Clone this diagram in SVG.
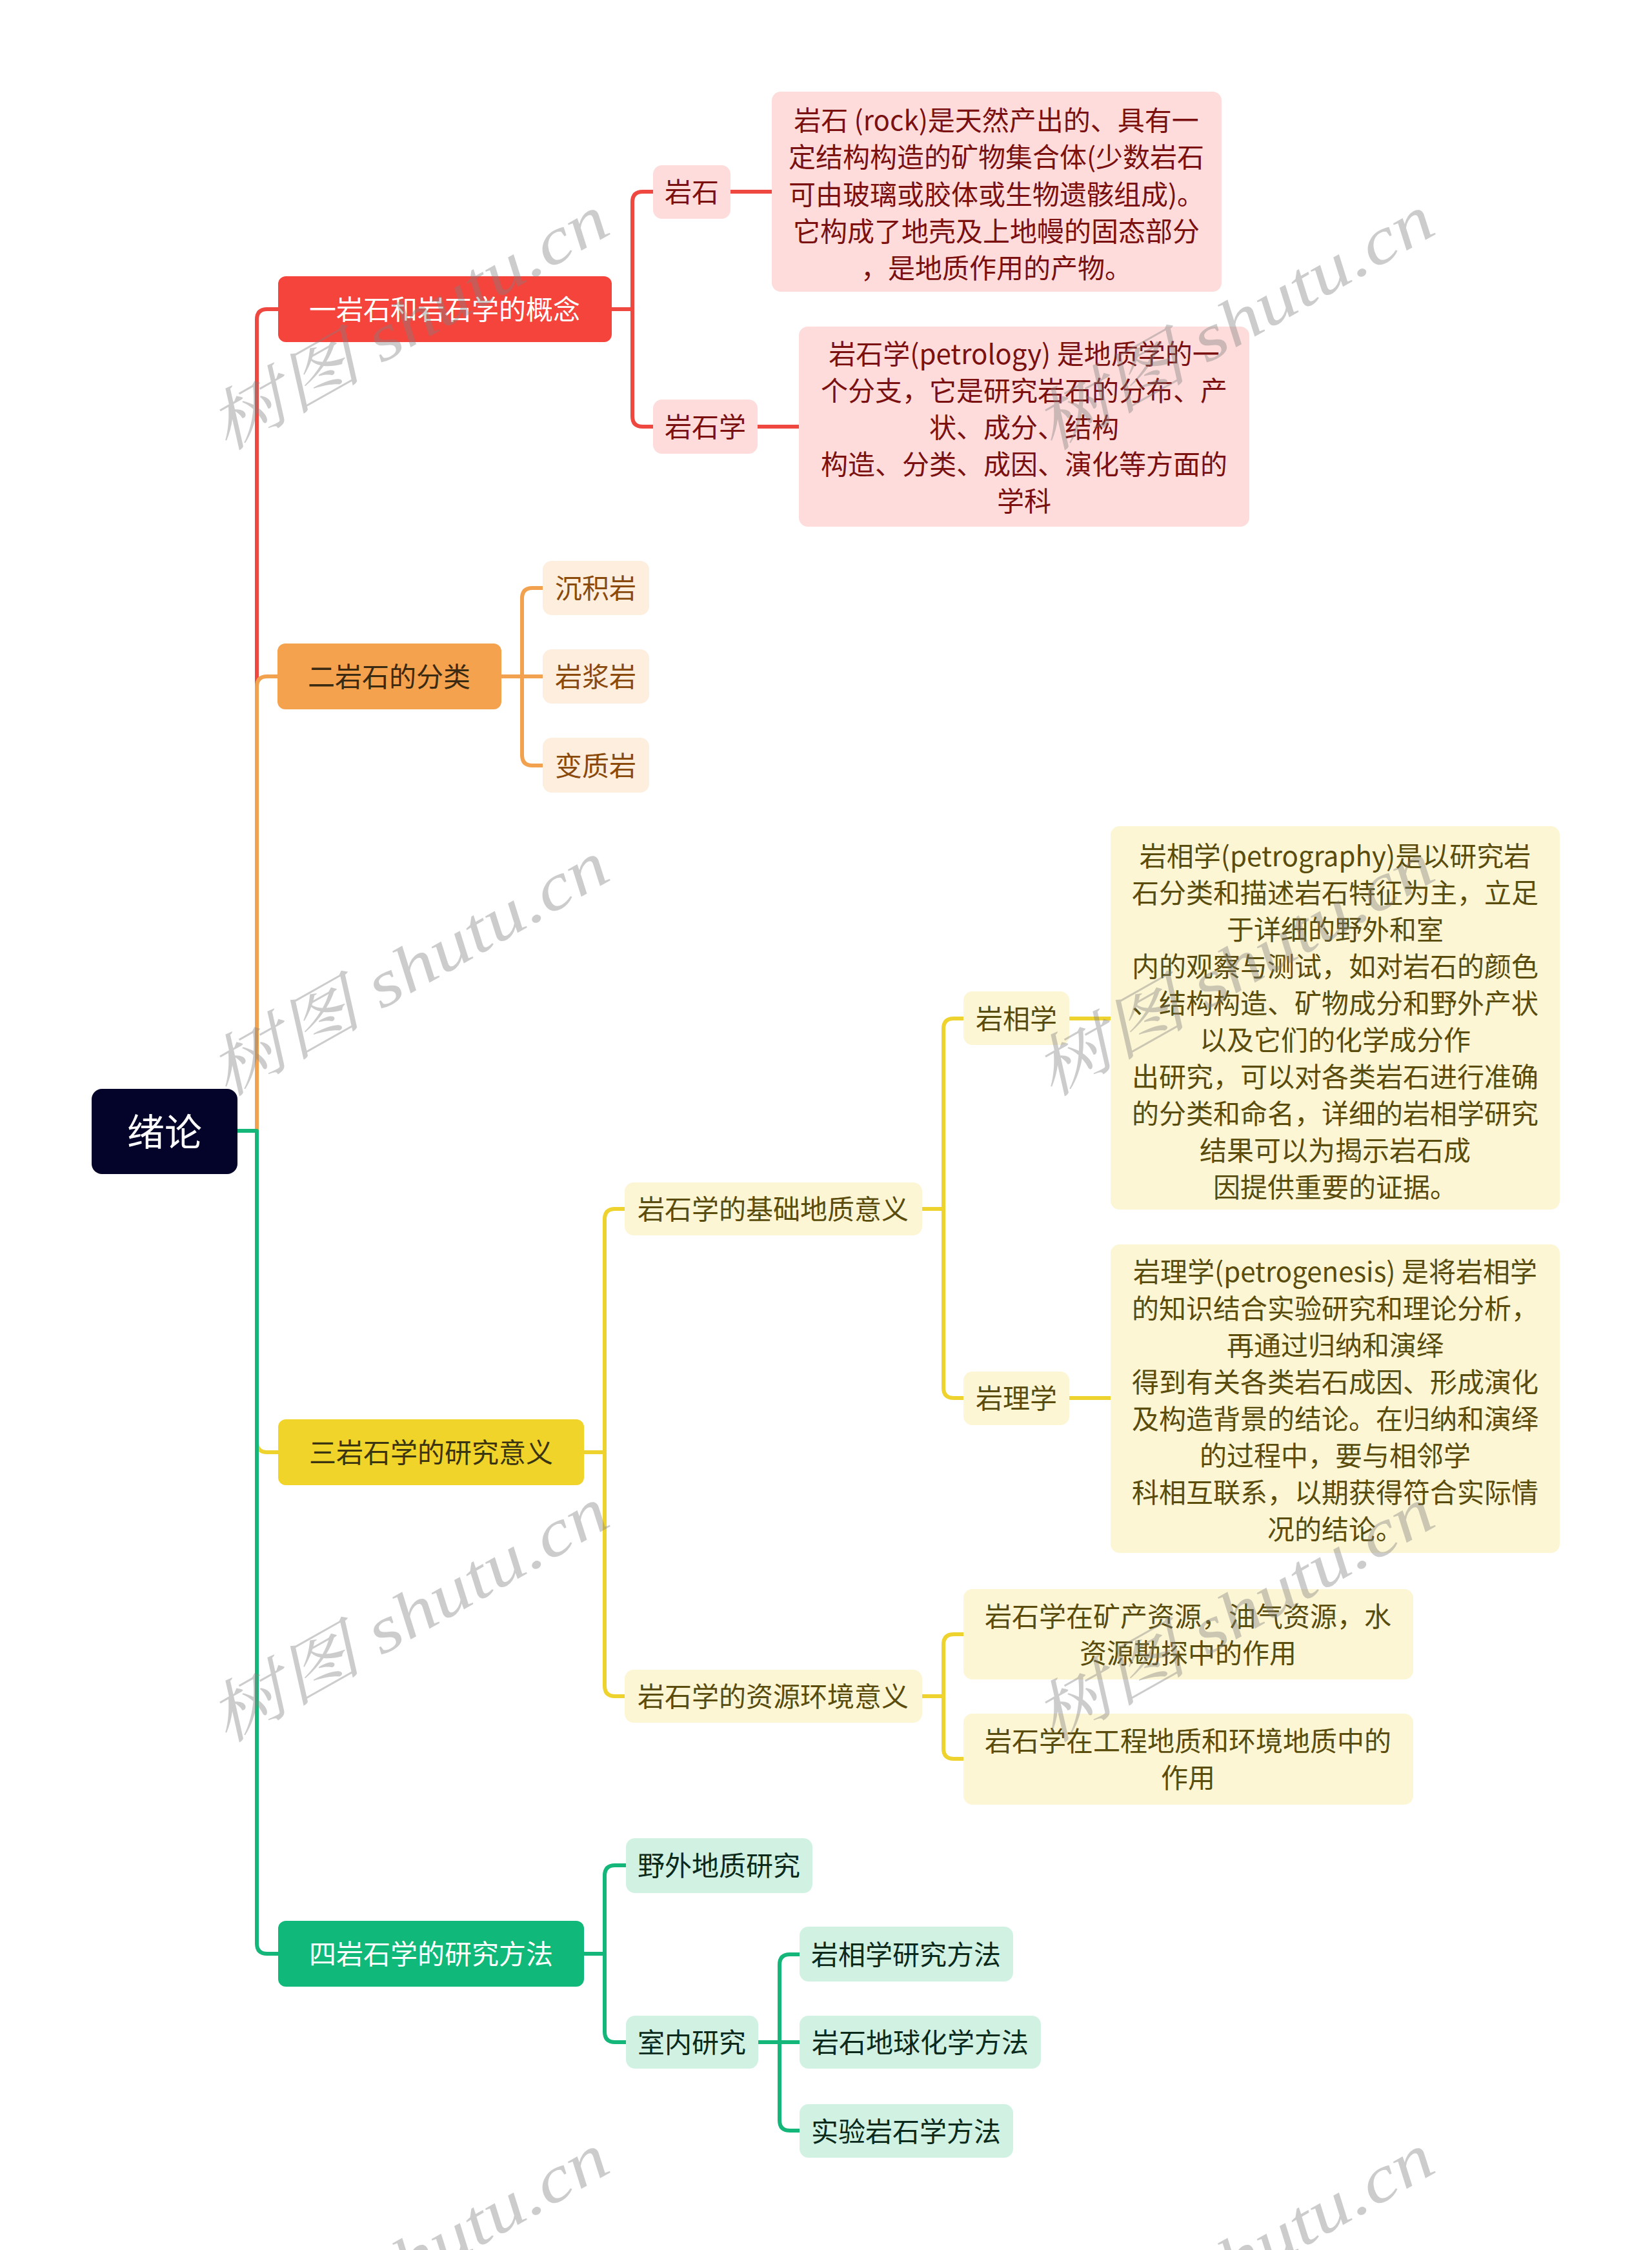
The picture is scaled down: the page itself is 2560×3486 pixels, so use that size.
<svg xmlns="http://www.w3.org/2000/svg" width="2560" height="3486" viewBox="0 0 2560 3486">
<style>
text{font-family:"Noto Sans CJK SC","Noto Sans",sans-serif;font-size:42px;text-anchor:middle}
.c{fill:none;stroke-width:6;stroke-linejoin:round;stroke-linecap:butt}
.cr{stroke:#ef4840}.co{stroke:#f2a24e}.cy{stroke:#eed22e}.cg{stroke:#14b67a}
.br{fill:#f5443c}.lr{fill:#fddcdb}
.bo{fill:#f4a24e}.lo{fill:#fdeede}
.by{fill:#f0d42a}.ly{fill:#fcf6d4}
.bg{fill:#10b97a}.lg{fill:#d1f2e3}
.tw{fill:#ffffff}.tr{fill:#7a1010}.tob{fill:#3b2a12}.to{fill:#8a4a0c}
.tyb{fill:#3b3410}.ty{fill:#594c0c}.tg{fill:#0c2a1c}
.wm{font-family:"Liberation Serif","Noto Serif CJK SC","Noto Sans CJK SC",serif;font-style:italic;font-size:102px;fill:#808080;fill-opacity:0.4;text-anchor:start}
</style>
<g id="connectors">
<path class="c cr" d="M368 1752H398V495Q398 479 414 479H431"/>
<path class="c co" d="M368 1752H398V1064Q398 1048 414 1048H430"/>
<path class="c cy" d="M368 1752H398V2234Q398 2250 414 2250H431"/>
<path class="c cg" d="M368 1752H398V3011Q398 3027 414 3027H431"/>
<path class="c cr" d="M948 479H980V313Q980 297 996 297H1012M980 479V645Q980 661 996 661H1012"/>
<path class="c cr" d="M1132 297H1196M1174 661H1238"/>
<path class="c co" d="M777 1048H809V927Q809 911 825 911H841M777 1048H841M809 1048V1170Q809 1186 825 1186H841"/>
<path class="c cy" d="M905 2250H937V1889Q937 1873 953 1873H968M937 2250V2612Q937 2628 953 2628H968"/>
<path class="c cy" d="M1429 1873H1462V1594Q1462 1578 1478 1578H1493M1462 1873V2150Q1462 2166 1478 2166H1493"/>
<path class="c cy" d="M1657 1578H1721M1657 2166H1721"/>
<path class="c cy" d="M1429 2628H1462V2548Q1462 2532 1478 2532H1493M1462 2628V2709Q1462 2725 1478 2725H1493"/>
<path class="c cg" d="M905 3027H937V2906Q937 2890 953 2890H970M937 3027V3148Q937 3164 953 3164H970"/>
<path class="c cg" d="M1175 3164H1208V3044Q1208 3028 1224 3028H1239M1175 3164H1239M1208 3164V3285Q1208 3301 1224 3301H1239"/>
</g>
<g id="root"><rect x="142" y="1687" width="226" height="132" rx="16" fill="#04042a"/><text x="255" y="1775" class="tw" style="font-size:58px">绪论</text></g>
<g id="b1"><rect class="br" x="431" y="428" width="517" height="102" rx="12"/><text x="689" y="495" class="tw">一岩石和岩石学的概念</text></g>
<g id="n-yanshi"><rect class="lr" x="1012" y="256" width="120" height="83" rx="14"/><text x="1072" y="313" class="tr">岩石</text></g>
<g id="n-rock"><rect class="lr" x="1196" y="142" width="697" height="310" rx="14"/>
<text class="tr" x="1544"><tspan x="1544" y="202">岩石 (rock)是天然产出的、具有一</tspan><tspan x="1544" y="259">定结构构造的矿物集合体(少数岩石</tspan><tspan x="1544" y="317">可由玻璃或胶体或生物遗骸组成)。</tspan><tspan x="1544" y="374">它构成了地壳及上地幔的固态部分</tspan><tspan x="1544" y="431">，是地质作用的产物。</tspan></text></g>
<g id="n-yanshixue"><rect class="lr" x="1012" y="619" width="162" height="84" rx="14"/><text x="1093" y="677" class="tr">岩石学</text></g>
<g id="n-petrology"><rect class="lr" x="1238" y="506" width="698" height="310" rx="14"/>
<text class="tr" x="1587"><tspan x="1587" y="564">岩石学(petrology) 是地质学的一</tspan><tspan x="1587" y="621">个分支，它是研究岩石的分布、产</tspan><tspan x="1587" y="678">状、成分、结构</tspan><tspan x="1587" y="735">构造、分类、成因、演化等方面的</tspan><tspan x="1587" y="792">学科</tspan></text></g>
<g id="b2"><rect class="bo" x="430" y="997" width="347" height="102" rx="12"/><text x="603" y="1064" class="tob">二岩石的分类</text></g>
<g id="n-chenji"><rect class="lo" x="841" y="869" width="165" height="84" rx="14"/><text x="923" y="927" class="to">沉积岩</text></g>
<g id="n-yanjiang"><rect class="lo" x="841" y="1006" width="165" height="84" rx="14"/><text x="923" y="1064" class="to">岩浆岩</text></g>
<g id="n-bianzhi"><rect class="lo" x="841" y="1143" width="165" height="85" rx="14"/><text x="923" y="1202" class="to">变质岩</text></g>
<g id="b3"><rect class="by" x="431" y="2199" width="474" height="102" rx="12"/><text x="668" y="2266" class="tyb">三岩石学的研究意义</text></g>
<g id="n-jichu"><rect class="ly" x="968" y="1832" width="461" height="82" rx="14"/><text x="1198" y="1889" class="ty">岩石学的基础地质意义</text></g>
<g id="n-yanxiang"><rect class="ly" x="1493" y="1536" width="164" height="83" rx="14"/><text x="1575" y="1594" class="ty">岩相学</text></g>
<g id="n-petrography"><rect class="ly" x="1721" y="1280" width="696" height="594" rx="14"/>
<text class="ty" x="2069"><tspan x="2069" y="1342">岩相学(petrography)是以研究岩</tspan><tspan x="2069" y="1399">石分类和描述岩石特征为主，立足</tspan><tspan x="2069" y="1456">于详细的野外和室</tspan><tspan x="2069" y="1513">内的观察与测试，如对岩石的颜色</tspan><tspan x="2069" y="1570">、结构构造、矿物成分和野外产状</tspan><tspan x="2069" y="1627">以及它们的化学成分作</tspan><tspan x="2069" y="1684">出研究，可以对各类岩石进行准确</tspan><tspan x="2069" y="1741">的分类和命名，详细的岩相学研究</tspan><tspan x="2069" y="1798">结果可以为揭示岩石成</tspan><tspan x="2069" y="1855">因提供重要的证据。</tspan></text></g>
<g id="n-yanli"><rect class="ly" x="1493" y="2125" width="164" height="83" rx="14"/><text x="1575" y="2182" class="ty">岩理学</text></g>
<g id="n-petrogenesis"><rect class="ly" x="1721" y="1928" width="696" height="478" rx="14"/>
<text class="ty" x="2069"><tspan x="2069" y="1986">岩理学(petrogenesis) 是将岩相学</tspan><tspan x="2069" y="2043">的知识结合实验研究和理论分析，</tspan><tspan x="2069" y="2100">再通过归纳和演绎</tspan><tspan x="2069" y="2157">得到有关各类岩石成因、形成演化</tspan><tspan x="2069" y="2214">及构造背景的结论。在归纳和演绎</tspan><tspan x="2069" y="2271">的过程中，要与相邻学</tspan><tspan x="2069" y="2328">科相互联系，以期获得符合实际情</tspan><tspan x="2069" y="2385">况的结论。</tspan></text></g>
<g id="n-ziyuan"><rect class="ly" x="968" y="2587" width="461" height="82" rx="14"/><text x="1198" y="2644" class="ty">岩石学的资源环境意义</text></g>
<g id="n-kuangchan"><rect class="ly" x="1493" y="2462" width="697" height="140" rx="14"/>
<text class="ty" x="1841"><tspan x="1841" y="2520">岩石学在矿产资源，油气资源，水</tspan><tspan x="1841" y="2577">资源勘探中的作用</tspan></text></g>
<g id="n-gongcheng"><rect class="ly" x="1493" y="2655" width="697" height="141" rx="14"/>
<text class="ty" x="1841"><tspan x="1841" y="2713">岩石学在工程地质和环境地质中的</tspan><tspan x="1841" y="2770">作用</tspan></text></g>
<g id="b4"><rect class="bg" x="431" y="2976" width="474" height="102" rx="12"/><text x="668" y="3043" class="tw">四岩石学的研究方法</text></g>
<g id="n-yewai"><rect class="lg" x="970" y="2848" width="289" height="85" rx="14"/><text x="1114" y="2906" class="tg">野外地质研究</text></g>
<g id="n-shinei"><rect class="lg" x="970" y="3123" width="205" height="82" rx="14"/><text x="1072" y="3180" class="tg">室内研究</text></g>
<g id="n-m1"><rect class="lg" x="1239" y="2985" width="331" height="85" rx="14"/><text x="1404" y="3044" class="tg">岩相学研究方法</text></g>
<g id="n-m2"><rect class="lg" x="1239" y="3123" width="374" height="82" rx="14"/><text x="1426" y="3180" class="tg">岩石地球化学方法</text></g>
<g id="n-m3"><rect class="lg" x="1239" y="3260" width="331" height="83" rx="14"/><text x="1404" y="3318" class="tg">实验岩石学方法</text></g>
<g id="watermarks">
<text class="wm" transform="translate(350 700) rotate(-29.5)" textLength="690" lengthAdjust="spacingAndGlyphs">树图 shutu.cn</text>
<text class="wm" transform="translate(1629 700) rotate(-29.5)" textLength="690" lengthAdjust="spacingAndGlyphs">树图 shutu.cn</text>
<text class="wm" transform="translate(350 1701) rotate(-29.5)" textLength="690" lengthAdjust="spacingAndGlyphs">树图 shutu.cn</text>
<text class="wm" transform="translate(1629 1701) rotate(-29.5)" textLength="690" lengthAdjust="spacingAndGlyphs">树图 shutu.cn</text>
<text class="wm" transform="translate(350 2702) rotate(-29.5)" textLength="690" lengthAdjust="spacingAndGlyphs">树图 shutu.cn</text>
<text class="wm" transform="translate(1629 2702) rotate(-29.5)" textLength="690" lengthAdjust="spacingAndGlyphs">树图 shutu.cn</text>
<text class="wm" transform="translate(350 3703) rotate(-29.5)" textLength="690" lengthAdjust="spacingAndGlyphs">树图 shutu.cn</text>
<text class="wm" transform="translate(1629 3703) rotate(-29.5)" textLength="690" lengthAdjust="spacingAndGlyphs">树图 shutu.cn</text>
</g>
</svg>
